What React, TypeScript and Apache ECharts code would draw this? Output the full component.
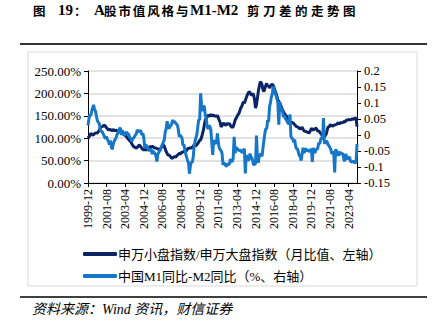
import React, { useEffect, useRef } from "react";
import * as echarts from "echarts";

const startYear = 1999;
const startMonth = 12;
const pointCount = 290;

// 申万小盘指数/申万大盘指数 (%), monthly from 1999-12
const ratio1999 = [100];
const ratio2000 = [103, 106, 111, 109, 107, 108, 110, 112, 111, 112, 114, 117];
const ratio2001 = [122, 126, 125, 127, 129, 128, 126, 123, 121, 118, 120, 119];
const ratio2002 = [118, 117, 119, 118, 116, 118, 117, 115, 114, 116, 113, 111];
const ratio2003 = [111, 109, 110, 107, 104, 101, 99, 96, 94, 92, 88, 84];
const ratio2004 = [81, 80, 79, 78, 80, 82, 85, 83, 80, 77, 75, 74];
const ratio2005 = [75, 74, 74, 76, 78, 80, 81, 80, 82, 81, 79, 78];
const ratio2006 = [78, 77, 76, 75, 74, 77, 80, 84, 85, 82, 76, 70];
const ratio2007 = [66, 62, 63, 60, 58, 55, 56, 58, 59, 57, 60, 62];
const ratio2008 = [64, 66, 65, 66, 70, 68, 70, 72, 71, 73, 76, 78];
const ratio2009 = [77, 79, 78, 80, 82, 85, 84, 83, 86, 88, 92, 95];
const ratio2010 = [96, 102, 110, 118, 130, 140, 145, 148, 152, 149, 150, 153];
const ratio2011 = [151, 150, 152, 149, 150, 148, 151, 146, 140, 135, 125, 128];
const ratio2012 = [132, 134, 130, 129, 131, 133, 131, 133, 128, 126, 124, 126];
const ratio2013 = [132, 140, 144, 148, 152, 155, 160, 167, 170, 176, 181, 178];
const ratio2014 = [184, 190, 196, 200, 204, 202, 198, 196, 200, 196, 185, 167];
const ratio2015 = [175, 189, 205, 215, 226, 224, 219, 208, 204, 211, 218, 222];
const ratio2016 = [215, 218, 212, 216, 219, 220, 218, 212, 205, 200, 193, 185];
const ratio2017 = [182, 178, 174, 168, 163, 159, 155, 152, 150, 146, 142, 138];
const ratio2018 = [137, 135, 136, 134, 133, 130, 128, 126, 125, 124, 122, 121];
const ratio2019 = [122, 125, 120, 117, 115, 116, 113, 115, 111, 113, 117, 122];
const ratio2020 = [120, 118, 120, 121, 123, 119, 115, 117, 113, 111, 108, 105];
const ratio2021 = [104, 103, 106, 110, 118, 126, 125, 129, 130, 128, 127, 129];
const ratio2022 = [129, 131, 130, 133, 134, 132, 134, 135, 134, 136, 137, 136];
const ratio2023 = [139, 141, 140, 142, 141, 141, 142, 143, 142, 144, 145, 144];
const ratio2024 = [126];

// 中国M1同比-M2同比, monthly from 1999-12
const gap1999 = [0.03];
const gap2000 = [0.05, 0.065, 0.06, 0.075, 0.085, 0.094, 0.08, 0.075, 0.06, 0.045, 0.04, 0.037];
const gap2001 = [0.02, 0.01, 0.012, 0.005, 0.0, -0.008, -0.01, -0.005, -0.015, -0.02, -0.03, -0.017];
const gap2002 = [-0.036, -0.045, -0.03, -0.02, -0.015, -0.01, 0.0, 0.005, 0.015, 0.02, 0.022, 0.0];
const gap2003 = [0.015, 0.0, 0.0, 0.002, 0.01, 0.005, 0.005, 0.0, -0.01, -0.01, -0.021, -0.01];
const gap2004 = [-0.01, -0.005, 0.0, 0.005, 0.016, 0.012, 0.01, 0.015, 0.01, 0.0, 0.005, -0.01];
const gap2005 = [-0.042, -0.03, -0.035, -0.04, -0.045, -0.05, -0.045, -0.045, -0.06, -0.05, -0.055, -0.058];
const gap2006 = [-0.065, -0.083, -0.06, -0.055, -0.05, -0.045, -0.035, -0.03, -0.021, -0.015, 0.01, 0.02];
const gap2007 = [0.043, 0.03, 0.02, 0.026, 0.03, 0.035, 0.047, 0.04, 0.043, 0.037, 0.035, 0.031];
const gap2008 = [0.018, -0.006, 0.0, -0.005, -0.01, -0.032, -0.03, -0.045, -0.059, -0.07, -0.08, -0.087];
const gap2009 = [-0.121, -0.096, -0.085, -0.085, -0.07, -0.037, -0.02, -0.008, 0.002, 0.026, 0.049, 0.047];
const gap2010 = [0.13, 0.094, 0.074, 0.089, 0.089, 0.061, 0.053, 0.027, 0.019, 0.028, 0.027, 0.015];
const gap2011 = [-0.024, -0.062, -0.016, -0.024, -0.024, -0.028, 0.005, -0.023, -0.041, -0.045, -0.049, -0.057];
const gap2012 = [-0.093, -0.087, -0.09, -0.097, -0.097, -0.089, -0.093, -0.09, -0.075, -0.08, -0.084, -0.073];
const gap2013 = [-0.006, -0.057, -0.038, -0.042, -0.045, -0.049, -0.048, -0.048, -0.053, -0.054, -0.048, -0.043];
const gap2014 = [-0.12, -0.064, -0.067, -0.079, -0.077, -0.058, -0.068, -0.071, -0.081, -0.094, -0.091, -0.09];
const gap2015 = [-0.002, -0.069, -0.087, -0.064, -0.061, -0.059, -0.067, -0.04, -0.017, 0.005, 0.02, 0.019];
const gap2016 = [0.046, 0.041, 0.087, 0.101, 0.119, 0.128, 0.152, 0.139, 0.132, 0.123, 0.113, 0.101];
const gap2017 = [0.032, 0.103, 0.082, 0.08, 0.074, 0.056, 0.061, 0.051, 0.048, 0.042, 0.036, 0.036];
const gap2018 = [0.064, -0.003, -0.011, -0.011, -0.023, -0.014, -0.034, -0.043, -0.043, -0.053, -0.065, -0.066];
const gap2019 = [-0.08, -0.06, -0.04, -0.056, -0.051, -0.041, -0.05, -0.048, -0.05, -0.051, -0.047, -0.043];
const gap2020 = [-0.084, -0.04, -0.051, -0.056, -0.043, -0.046, -0.038, -0.024, -0.028, -0.014, -0.007, -0.015];
const gap2021 = [0.053, -0.027, -0.023, -0.019, -0.022, -0.031, -0.034, -0.04, -0.046, -0.059, -0.055, -0.055];
const gap2022 = [-0.117, -0.045, -0.05, -0.054, -0.065, -0.056, -0.053, -0.061, -0.057, -0.06, -0.078, -0.081];
const gap2023 = [-0.059, -0.071, -0.076, -0.071, -0.069, -0.082, -0.084, -0.084, -0.082, -0.084, -0.087, -0.084];
const gap2024 = [-0.028];

const ratioSeries = [
  ...ratio1999, ...ratio2000, ...ratio2001, ...ratio2002, ...ratio2003, ...ratio2004,
  ...ratio2005, ...ratio2006, ...ratio2007, ...ratio2008, ...ratio2009, ...ratio2010,
  ...ratio2011, ...ratio2012, ...ratio2013, ...ratio2014, ...ratio2015, ...ratio2016,
  ...ratio2017, ...ratio2018, ...ratio2019, ...ratio2020, ...ratio2021, ...ratio2022,
  ...ratio2023, ...ratio2024,
];
const gapSeries = [
  ...gap1999, ...gap2000, ...gap2001, ...gap2002, ...gap2003, ...gap2004,
  ...gap2005, ...gap2006, ...gap2007, ...gap2008, ...gap2009, ...gap2010,
  ...gap2011, ...gap2012, ...gap2013, ...gap2014, ...gap2015, ...gap2016,
  ...gap2017, ...gap2018, ...gap2019, ...gap2020, ...gap2021, ...gap2022,
  ...gap2023, ...gap2024,
];

const categories: string[] = [];
for (let i = 0; i < pointCount; i++) {
  const m = startMonth - 1 + i;
  const y = startYear + Math.floor(m / 12);
  const mm = (m % 12) + 1;
  categories.push(`${y}-${mm < 10 ? "0" + mm : mm}`);
}

const seriesNames = [
  "申万小盘指数/申万大盘指数（月比值、左轴）",
  "中国M1同比-M2同比（%、右轴）",
];
// title pieces: text, left x, per-character pitch (0 = set as one run), is latin
const titlePieces: [string, number, number, boolean][] = [
  ["图", 33, 0, false],
  ["19", 58, 0, true],
  ["：", 74, 0, false],
  ["A", 94, 0, true],
  ["股市值风格与", 104, 14.4, false],
  ["M1-M2", 190, 0, true],
  ["剪刀差的走势图", 247, 16, false],
];
const sourceText = "资料来源：Wind 资讯，财信证券";

const FONT = "'Liberation Serif', 'Noto Sans CJK SC', serif";
const TITLE_CJK = "bold 12.5px 'Noto Sans CJK SC', sans-serif";
const TITLE_LATIN = "bold 15px 'Liberation Serif', serif";

function titleGraphics() {
  const out: any[] = [];
  titlePieces.forEach(([text, x, pitch, latin]) => {
    const font = latin ? TITLE_LATIN : TITLE_CJK;
    if (pitch === 0) {
      out.push({ type: "text", x, y: 10, style: { text, font, fill: "#000", verticalAlign: "middle" } });
    } else {
      Array.from(text).forEach((ch, k) => {
        out.push({ type: "text", x: x + k * pitch, y: 10, style: { text: ch, font, fill: "#000", verticalAlign: "middle" } });
      });
    }
  });
  return out;
}

export default function App() {
  const ref = useRef<HTMLDivElement>(null);
  useEffect(() => {
    if (!ref.current) return;
    const chart = echarts.init(ref.current, null, { renderer: "svg" });
    chart.setOption({
      animation: false,
      backgroundColor: "#ffffff",
      textStyle: { fontFamily: FONT },
      graphic: [
        ...titleGraphics(),
        {
          type: "line",
          shape: { x1: 20, y1: 44, x2: 427, y2: 44 },
          style: { stroke: "#333", lineWidth: 2 },
        },
        {
          type: "rect",
          shape: { x: 28, y: 52, width: 389, height: 234 },
          style: { fill: "none", stroke: "#d9d9d9", lineWidth: 1 },
        },
        {
          type: "line",
          shape: { x1: 20, y1: 297, x2: 427, y2: 297 },
          style: { stroke: "#404040", lineWidth: 2 },
        },
        {
          type: "text",
          x: 32,
          y: 309,
          style: {
            text: sourceText,
            font: "italic 14px 'Liberation Serif', 'Noto Sans CJK SC', serif",
            fill: "#000",
            verticalAlign: "middle",
          },
        },
      ],
      legend: {
        orient: "vertical",
        left: 78,
        top: 242,
        itemGap: 8,
        itemWidth: 34,
        itemHeight: 4,
        icon: "roundRect",
        textStyle: { fontSize: 13, color: "#000", fontFamily: FONT, lineHeight: 14, padding: [0, 0, 0, -4] },
        data: seriesNames,
      },
      grid: { left: 88, right: 78, top: 71, bottom: 145, containLabel: false },
      xAxis: {
        type: "category",
        data: categories,
        boundaryGap: false,
        axisLine: { lineStyle: { color: "#000", width: 1 } },
        axisTick: { interval: 19, length: 4, lineStyle: { color: "#000" } },
        axisLabel: {
          interval: 19,
          rotate: 90,
          fontSize: 12,
          color: "#000",
          fontFamily: FONT,
          margin: 6,
        },
        splitLine: { show: false },
      },
      yAxis: [
        {
          type: "value",
          min: 0,
          max: 250,
          interval: 50,
          axisLine: { show: true, lineStyle: { color: "#000", width: 1 } },
          axisTick: { show: true, length: 4, lineStyle: { color: "#000" } },
          axisLabel: {
            fontSize: 13,
            color: "#000",
            fontFamily: FONT,
            margin: 7,
            formatter: (v: number) => v.toFixed(2) + "%",
          },
          splitLine: { show: true, lineStyle: { color: "#d9d9d9", width: 1.5 } },
        },
        {
          type: "value",
          min: -0.15,
          max: 0.2,
          interval: 0.05,
          position: "right",
          axisLine: { show: true, lineStyle: { color: "#000", width: 1 } },
          axisTick: { show: true, length: 4, lineStyle: { color: "#000" } },
          axisLabel: {
            fontSize: 12.5,
            color: "#000",
            fontFamily: FONT,
            margin: 7,
            formatter: (v: number) => String(Math.round(v * 100) / 100),
          },
          splitLine: { show: false },
        },
      ],
      series: [
        {
          name: seriesNames[0],
          type: "line",
          yAxisIndex: 0,
          data: ratioSeries,
          showSymbol: false,
          symbol: "none",
          lineStyle: { color: "#0b2466", width: 3 },
          itemStyle: { color: "#0b2466" },
        },
        {
          name: seriesNames[1],
          type: "line",
          yAxisIndex: 1,
          data: gapSeries,
          showSymbol: false,
          symbol: "none",
          lineStyle: { color: "#1677c8", width: 3 },
          itemStyle: { color: "#1677c8" },
        },
      ],
    });
    return () => chart.dispose();
  }, []);
  return (
    <div
      ref={ref}
      style={{ position: "absolute", left: 0, top: 0, width: 435, height: 328 }}
    />
  );
}
